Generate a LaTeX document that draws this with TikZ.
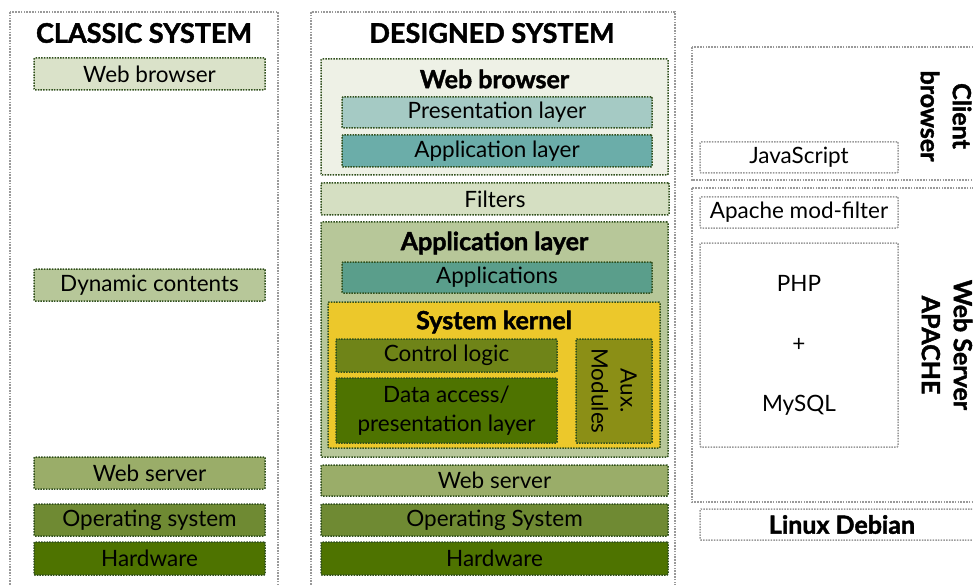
\documentclass[tikz,border=0pt]{standalone}
\usepackage{fontspec}
\setmainfont{Lato}[BoldFeatures={FakeBold=1.6}]
\usetikzlibrary{positioning}

\definecolor{dotgray}{HTML}{9A9A9A}
\definecolor{dotgreen}{HTML}{2F4F1C}
\definecolor{wbcol}{HTML}{DAE2C9}
\definecolor{wbgroupcol}{HTML}{EEF1E6}
\definecolor{filtcol}{HTML}{D5DFC2}
\definecolor{prescol}{HTML}{A5CAC4}
\definecolor{applcol}{HTML}{6BADA9}
\definecolor{appscol}{HTML}{5A9E8B}
\definecolor{agroupcol}{HTML}{B7C799}
\definecolor{kernelcol}{HTML}{ECC82B}
\definecolor{ctrlcol}{HTML}{6F8418}
\definecolor{datacol}{HTML}{4E7300}
\definecolor{auxcol}{HTML}{8B8F16}
\definecolor{wscol}{HTML}{9AAD69}
\definecolor{oscol}{HTML}{6F8A33}
\definecolor{hwcol}{HTML}{4E7300}

\tikzset{
  txt/.style={font=\fontsize{22.5}{26}\selectfont},
  bold/.style={font=\fontsize{25}{32}\selectfont\bfseries},
  head/.style={font=\fontsize{27}{30}\selectfont\bfseries},
  column/.style={draw=dotgray, dash pattern=on 1.6pt off 1.2pt, line width=1.6pt},
  layer/.style={draw=dotgreen, dash pattern=on 1.5pt off 1.2pt, line width=1.5pt, rounded corners=1pt,
    inner sep=0pt, align=center, txt},
  plain/.style={draw=dotgray, dash pattern=on 1.5pt off 1.2pt, line width=1.5pt, rounded corners=1pt,
    inner sep=0pt, align=center, txt},
}

\begin{document}
\begin{tikzpicture}[x=1pt, y=-1pt]
\useasboundingbox (0,0) rectangle (973,585);

%Columns.
\draw[column] (10,12) rectangle (278,600);
\draw[column] (311,12) rectangle (675,600);
\node[head] (classic) at (144,33) {CLASSIC SYSTEM};
\node[head] (designed) at (492,33) {DESIGNED SYSTEM};

%Classic system.
\node[layer, fill=wbcol, minimum width=231, minimum height=32] (cwb) at (149.5,74) {Web browser};
\node[layer, fill=agroupcol, minimum width=231, minimum height=32] (cdyn) at (149.5,285) {Dynamic contents};
\node[layer, fill=wscol, minimum width=231, minimum height=32] (cws) at (149.5,473) {Web server};
\node[layer, fill=oscol, minimum width=231, minimum height=32] (cos) at (149.5,520) {Operating system};
\node[layer, fill=hwcol, minimum width=231, minimum height=33] (chw) at (149.5,558.5) {Hardware};

%Designed system: web browser.
\node[layer, fill=wbgroupcol, minimum width=347, minimum height=116] (wbgroup) at (494.5,117) {};
\node[bold] (wbtitle) at (494.5,79) {Web browser};
\node[layer, fill=prescol, minimum width=310, minimum height=31] (pres) at (497,112.5) {Presentation layer};
\node[layer, fill=applcol, minimum width=310, minimum height=32] (appl) at (497,151) {Application layer};
\node[layer, fill=filtcol, minimum width=348, minimum height=32] (filters) at (495,199) {Filters};

%Designed system: application layer.
\node[layer, fill=agroupcol, minimum width=347, minimum height=235] (agroup) at (494.5,339.5) {};
\node[bold] (agtitle) at (494.5,243) {Application layer};
\node[layer, fill=appscol, minimum width=310, minimum height=31] (apps) at (497,277.5) {Applications};
\node[layer, fill=kernelcol, minimum width=332, minimum height=146] (kernel) at (494,375) {};
\node[bold] (ktitle) at (494,322) {System kernel};
\node[layer, fill=ctrlcol, minimum width=221, minimum height=33] (ctrl) at (446.5,355.5) {Control logic};
\node[layer, fill=datacol, minimum width=221, minimum height=65, font=\fontsize{22.5}{29}\selectfont] (data) at (446.5,410.5) {Data access/\\presentation layer};
\node[layer, fill=auxcol, minimum width=76, minimum height=104] (aux) at (614,391) {};
\node[txt, align=center, rotate=-90, font=\fontsize{22.5}{29}\selectfont] (auxtxt) at (aux) {Aux.\\Modules};

%Designed system: base.
\node[layer, fill=wscol, minimum width=347, minimum height=31] (mws) at (494.5,480.5) {Web server};
\node[layer, fill=oscol, minimum width=347, minimum height=32] (mos) at (494.5,520) {Operating System};
\node[layer, fill=hwcol, minimum width=347, minimum height=33] (mhw) at (494.5,558.5) {Hardware};

%Technologies.
\draw[column] (692,47) rectangle (995,180);
\draw[column] (692,188) rectangle (995,502);
\node[plain, minimum width=198, minimum height=31] (js) at (799,157.5) {JavaScript};
\node[bold, rotate=-90, align=center] (client) at (946,116) {Client\\browser};
\node[plain, minimum width=198, minimum height=31] (modf) at (799,212.5) {Apache mod-filter};
\node[plain, minimum width=198, minimum height=204, font=\fontsize{22.5}{60}\selectfont] (php) at (799,345) {PHP\\+\\MySQL};
\node[bold, rotate=-90, align=center] (apache) at (947,345) {Web Server\\APACHE};
\node[plain, minimum width=284, minimum height=31, bold] (debian) at (842,524.5) {Linux Debian};

\end{tikzpicture}
\end{document}
